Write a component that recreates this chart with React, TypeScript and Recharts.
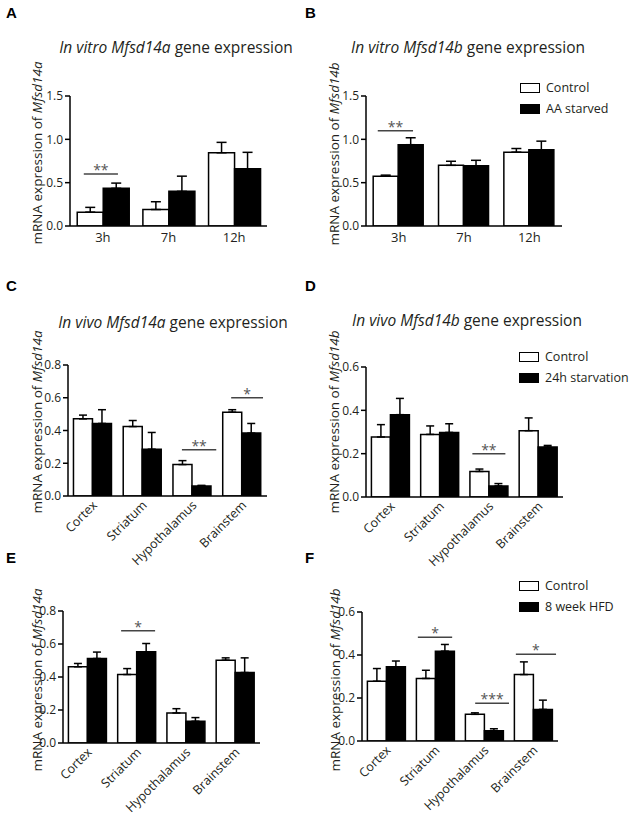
import React from 'react';
import { BarChart, Bar, XAxis, YAxis, ErrorBar, ReferenceLine } from 'recharts';

// categories
const timeCats = ['3h', '7h', '12h'];
const regionCats = ['Cortex', 'Striatum', 'Hypothalamus', 'Brainstem'];

// A: in vitro Mfsd14a
const aCtrl = [0.16, 0.19, 0.845];
const aCtrlErr = [0.055, 0.09, 0.12];
const aStarved = [0.435, 0.40, 0.66];
const aStarvedErr = [0.06, 0.175, 0.19];

// B: in vitro Mfsd14b
const bCtrl = [0.575, 0.70, 0.852];
const bCtrlErr = [0.012, 0.047, 0.042];
const bStarved = [0.938, 0.695, 0.879];
const bStarvedErr = [0.08, 0.063, 0.10];

// C: in vivo Mfsd14a, 24h starvation
const cCtrl = [0.471, 0.424, 0.192, 0.512];
const cCtrlErr = [0.023, 0.037, 0.024, 0.015];
const cStarved = [0.443, 0.286, 0.061, 0.384];
const cStarvedErr = [0.084, 0.102, 0.004, 0.059];

// D: in vivo Mfsd14b, 24h starvation
const dCtrl = [0.277, 0.289, 0.118, 0.306];
const dCtrlErr = [0.057, 0.039, 0.011, 0.059];
const dStarved = [0.38, 0.298, 0.051, 0.231];
const dStarvedErr = [0.075, 0.04, 0.011, 0.007];

// E: Mfsd14a, 8 week HFD
const eCtrl = [0.462, 0.415, 0.182, 0.502];
const eCtrlErr = [0.02, 0.036, 0.026, 0.014];
const eHfd = [0.512, 0.553, 0.132, 0.427];
const eHfdErr = [0.039, 0.05, 0.022, 0.089];

// F: Mfsd14b, 8 week HFD
const fCtrl = [0.278, 0.291, 0.124, 0.309];
const fCtrlErr = [0.059, 0.038, 0.007, 0.059];
const fHfd = [0.345, 0.418, 0.048, 0.147];
const fHfdErr = [0.027, 0.031, 0.009, 0.043];

// y ticks
const ticks15 = [0, 0.5, 1.0, 1.5];
const ticks08 = [0, 0.2, 0.4, 0.6, 0.8];
const ticks06 = [0, 0.2, 0.4, 0.6];

// significance bars: x in category units, y in data units
const sigA = [{ x1: 0.21, x2: 0.73, y: 0.6, text: '**' }];
const sigB = [{ x1: 0.18, x2: 0.72, y: 1.1, text: '**' }];
const sigC = [
  { x1: 2.29, x2: 2.98, y: 0.282, text: '**' },
  { x1: 3.28, x2: 3.92, y: 0.6, text: '*' },
];
const sigD = [{ x1: 2.16, x2: 2.83, y: 0.2, text: '**' }];
const sigE = [{ x1: 1.18, x2: 1.87, y: 0.68, text: '*' }];
const sigF = [
  { x1: 1.14, x2: 1.84, y: 0.483, text: '*' },
  { x1: 2.31, x2: 3.0, y: 0.176, text: '***' },
  { x1: 3.14, x2: 3.96, y: 0.404, text: '*' },
];

const FONT = '"Open Sans", "DejaVu Sans", sans-serif';
const INK = '#231f20';

const FlatTick = ({ x, y, payload }: any) => (
  <text x={x} y={y + 16} textAnchor="middle" fontSize={13} fontFamily={FONT} fill={INK}>
    {payload.value}
  </text>
);

const SlantTick = ({ x, y, payload }: any) => {
  const tx = x + 5;
  const ty = y + 10;
  return (
    <text
      x={tx}
      y={ty}
      transform={`rotate(-45, ${tx}, ${ty})`}
      textAnchor="end"
      fontSize={12.5}
      fontFamily={FONT}
      fill={INK}
    >
      {payload.value}
    </text>
  );
};

// significance line + stars, y from the reference line, x from the plot extent
const SigMark = ({ x1, x2, y1, s, n }: any) => {
  const w = x2 - x1;
  const a = x1 + (w * s.x1) / n;
  const b = x1 + (w * s.x2) / n;
  return (
    <g>
      <line x1={a} x2={b} y1={y1} y2={y1} stroke="#444" strokeWidth={1.5} />
      <text x={(a + b) / 2} y={y1 + 1} textAnchor="middle" fontSize={14} fontFamily={FONT} fill="#555">
        {s.text}
      </text>
    </g>
  );
};

function Panel(props: any) {
  const {
    cats, ctrl, ctrlErr, trt, trtErr, sigs, left, top, width, height,
    margin, yw, xh, max, ticks, slanted, gene, labelX, labelY, cap,
  } = props;

  const data = cats.map((c: string, i: number) => ({
    cat: c,
    ctrl: ctrl[i],
    ctrlErr: [0, ctrlErr[i]],
    trt: trt[i],
    trtErr: [0, trtErr[i]],
  }));

  const lx = labelX - left;
  const ly = labelY - top;

  return (
    <div style={{ position: 'absolute', left, top }}>
      <BarChart
        width={width}
        height={height}
        data={data}
        margin={margin}
        barCategoryGap="11%"
        barGap={0}
      >
        <XAxis
          dataKey="cat"
          axisLine={{ stroke: '#000', strokeWidth: 1.5 }}
          tickLine={false}
          tickSize={0}
          tickMargin={0}
          height={xh}
          interval={0}
          tick={slanted ? <SlantTick /> : <FlatTick />}
        />
        <YAxis
          domain={[0, max]}
          ticks={ticks}
          interval={0}
          allowDataOverflow
          width={yw}
          tickSize={5}
          tickMargin={2}
          tickFormatter={(v: number) => v.toFixed(1)}
          axisLine={{ stroke: '#000', strokeWidth: 1.5 }}
          tickLine={{ stroke: '#000', strokeWidth: 1.5 }}
          tick={{ fill: INK, fontSize: 12, fontFamily: FONT }}
          label={{
            content: () => (
              <text
                transform={`translate(${lx}, ${ly}) rotate(-90)`}
                textAnchor="middle"
                dominantBaseline="central"
                fontSize={13.5}
                fontFamily={FONT}
                fill={INK}
              >
                mRNA expression  of <tspan fontStyle="italic">{gene}</tspan>
              </text>
            ),
          }}
        />
        <Bar dataKey="ctrl" fill="#fff" stroke="#000" strokeWidth={1.5} isAnimationActive={false}>
          <ErrorBar dataKey="ctrlErr" width={cap} stroke="#000" strokeWidth={1.5} direction="y" />
        </Bar>
        <Bar dataKey="trt" fill="#000" stroke="#000" strokeWidth={1.5} isAnimationActive={false}>
          <ErrorBar dataKey="trtErr" width={cap} stroke="#000" strokeWidth={1.5} direction="y" />
        </Bar>
        {sigs.map((s: any, i: number) => (
          <ReferenceLine
            key={i}
            y={s.y}
            shape={(p: any) => <SigMark {...p} s={s} n={cats.length} />}
          />
        ))}
      </BarChart>
    </div>
  );
}

const Title = ({ cx, cy, pre, gene }: any) => (
  <div
    style={{
      position: 'absolute', left: cx - 160, top: cy - 11, width: 320, textAlign: 'center',
      fontFamily: FONT, fontSize: 15.5, lineHeight: '22px', color: INK, whiteSpace: 'nowrap',
    }}
  >
    <i>{pre} {gene}</i> gene expression
  </div>
);

const Letter = ({ x, y, t }: any) => (
  <div
    style={{
      position: 'absolute', left: x, top: y, fontFamily: '"Liberation Sans", Arial, sans-serif',
      fontWeight: 'bold', fontSize: 15, lineHeight: '16px', color: '#000',
    }}
  >
    {t}
  </div>
);

const LegendBox = ({ x, y, names }: any) => (
  <div
    style={{
      position: 'absolute', left: x, top: y, fontFamily: FONT, fontSize: 12.5, color: INK,
      whiteSpace: 'nowrap', width: 112,
    }}
  >
    {names.map((n: string, i: number) => (
      <div key={n} style={{ display: 'flex', alignItems: 'center', height: 21 }}>
        <div
          style={{
            width: 18, height: 8, border: '1.5px solid #000', flexShrink: 0,
            background: i === 0 ? '#fff' : '#000', marginRight: 6,
          }}
        />
        <span style={{ lineHeight: '21px' }}>{n}</span>
      </div>
    ))}
  </div>
);

export default function App() {
  return (
    <div style={{ position: 'absolute', left: 0, top: 0, width: 634, height: 817, background: '#fff', overflow: 'hidden' }}>
      <Letter x={6} y={5} t="A" />
      <Letter x={305} y={5} t="B" />
      <Letter x={6} y={278} t="C" />
      <Letter x={305} y={278} t="D" />
      <Letter x={6} y={550} t="E" />
      <Letter x={305} y={550} t="F" />

      <Title cx={176} cy={47} pre="In vitro" gene="Mfsd14a" />
      <Title cx={468} cy={47} pre="In vitro" gene="Mfsd14b" />
      <Title cx={173} cy={322} pre="In vivo" gene="Mfsd14a" />
      <Title cx={467} cy={320} pre="In vivo" gene="Mfsd14b" />

      <Panel
        cats={timeCats} ctrl={aCtrl} ctrlErr={aCtrlErr} trt={aStarved} trtErr={aStarvedErr} sigs={sigA}
        left={0} top={60} width={300} height={190} margin={{ top: 36, right: 33, bottom: 0, left: 0 }}
        yw={70} xh={24} max={1.5} ticks={ticks15} slanted={false} gene="Mfsd14a" labelX={37} labelY={153} cap={5}
      />
      <Panel
        cats={timeCats} ctrl={bCtrl} ctrlErr={bCtrlErr} trt={bStarved} trtErr={bStarvedErr} sigs={sigB}
        left={300} top={60} width={300} height={190} margin={{ top: 36, right: 38, bottom: 0, left: 0 }}
        yw={66} xh={24} max={1.5} ticks={ticks15} slanted={false} gene="Mfsd14b" labelX={334} labelY={154} cap={5}
      />
      <Panel
        cats={regionCats} ctrl={cCtrl} ctrlErr={cCtrlErr} trt={cStarved} trtErr={cStarvedErr} sigs={sigC}
        left={0} top={330} width={300} height={250} margin={{ top: 35, right: 33, bottom: 0, left: 0 }}
        yw={68} xh={84} max={0.8} ticks={ticks08} slanted gene="Mfsd14a" labelX={37} labelY={422} cap={4}
      />
      <Panel
        cats={regionCats} ctrl={dCtrl} ctrlErr={dCtrlErr} trt={dStarved} trtErr={dStarvedErr} sigs={sigD}
        left={300} top={330} width={300} height={250} margin={{ top: 37, right: 37, bottom: 0, left: 0 }}
        yw={66} xh={83} max={0.6} ticks={ticks06} slanted gene="Mfsd14b" labelX={334} labelY={422} cap={4}
      />
      <Panel
        cats={regionCats} ctrl={eCtrl} ctrlErr={eCtrlErr} trt={eHfd} trtErr={eHfdErr} sigs={sigE}
        left={0} top={570} width={300} height={247} margin={{ top: 41, right: 40, bottom: 0, left: 0 }}
        yw={63} xh={74} max={0.8} ticks={ticks08} slanted gene="Mfsd14a" labelX={37} labelY={680} cap={4}
      />
      <Panel
        cats={regionCats} ctrl={fCtrl} ctrlErr={fCtrlErr} trt={fHfd} trtErr={fHfdErr} sigs={sigF}
        left={300} top={570} width={300} height={247} margin={{ top: 42, right: 42, bottom: 0, left: 0 }}
        yw={62} xh={76} max={0.6} ticks={ticks06} slanted gene="Mfsd14b" labelX={335} labelY={680} cap={4}
      />

      <LegendBox x={520} y={77} names={['Control', 'AA starved']} />
      <LegendBox x={519} y={346} names={['Control', '24h starvation']} />
      <LegendBox x={519} y={575} names={['Control', '8 week HFD']} />
    </div>
  );
}
